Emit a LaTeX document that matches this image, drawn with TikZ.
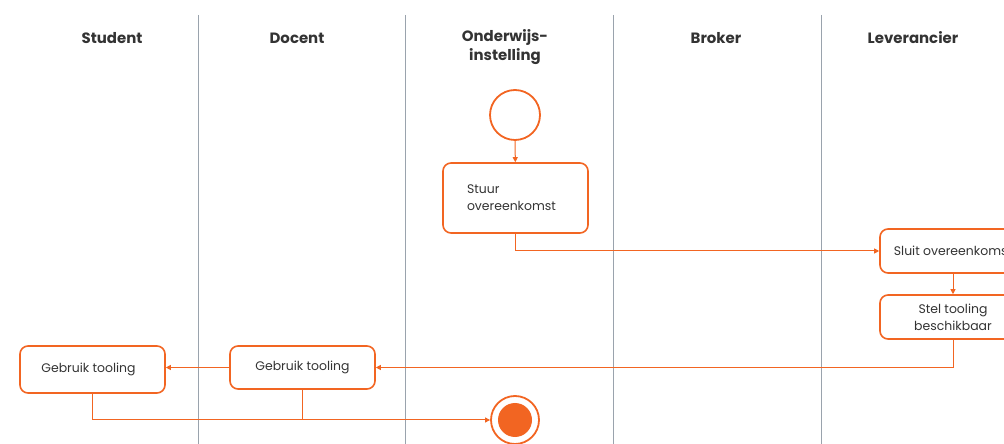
\documentclass[tikz,border=0pt]{standalone}
\usepackage{fontspec}
\setmainfont{Poppins}
\usetikzlibrary{arrows.meta}
\definecolor{orng}{HTML}{F26522}
\definecolor{lane}{HTML}{9AA3AD}
\definecolor{txt}{HTML}{333333}
\begin{document}
\begin{tikzpicture}[x=1bp,y=-1bp,
  box/.style={draw=orng,line width=1.6bp,rounded corners=8bp,fill=white,text=txt,font=\fontsize{12.5}{17}\selectfont,align=center,inner sep=0pt},
  hdr/.style={text=txt,font=\fontsize{15}{19}\selectfont\bfseries,align=center},
  conn/.style={draw=orng,line width=1bp},
  arr/.style={conn,-{Triangle[length=5bp,width=5bp]}}]
\useasboundingbox (0,0) rectangle (1004,444);
\clip (0,0) rectangle (1004,444);
% lanes
\foreach \x in {198,405,613,821}{\draw[lane,line width=0.8bp] (\x,15) -- (\x,444);}
\node[hdr] (hS) at (112,38) {Student};
\node[hdr] (hD) at (297,38) {Docent};
\node[hdr] (hO) at (505,47.5) {Onderwijs-\\instelling};
\node[hdr] (hB) at (716,38) {Broker};
\node[hdr] (hL) at (913,38) {Leverancier};
% nodes
\node[circle,draw=orng,line width=1.8bp,minimum size=50bp,inner sep=0pt] (start) at (515,115) {};
\node[box,minimum width=145bp,minimum height=70bp,text width=121bp,align=left] (stuur) at (515.5,198) {\hspace*{12bp}Stuur\\\hspace*{12bp}overeenkomst};
\node[box,minimum width=146bp,minimum height=44bp] (sluit) at (953,251) {Sluit overeenkomst};
\node[box,minimum width=146bp,minimum height=44bp] (stel) at (953,317) {Stel tooling\\beschikbaar};
\node[box,minimum width=145bp,minimum height=43bp] (docent) at (302.5,367.5) {Gebruik tooling};
\node[box,minimum width=145bp,minimum height=47bp] (student) at (92.5,369.5) {\hspace*{-8bp}Gebruik tooling};
\node[circle,draw=orng,line width=1.8bp,fill=white,minimum size=48bp,inner sep=0pt] (end) at (515,420) {};
\node[circle,fill=orng,minimum size=34bp,inner sep=0pt] (endin) at (end.center) {};
% connectors
\draw[arr] (start) -- (stuur);
\draw[arr] (stuur.south) |- (sluit.west);
\draw[arr] (sluit) -- (stel);
\draw[arr] (stel.south) |- (docent.east);
\draw[arr] (docent.west) -- (docent.west -| student.east);
\draw[conn] (docent.south) -- (docent.south |- end.west);
\draw[arr] (student.south) |- (end.west);
\end{tikzpicture}
\end{document}
